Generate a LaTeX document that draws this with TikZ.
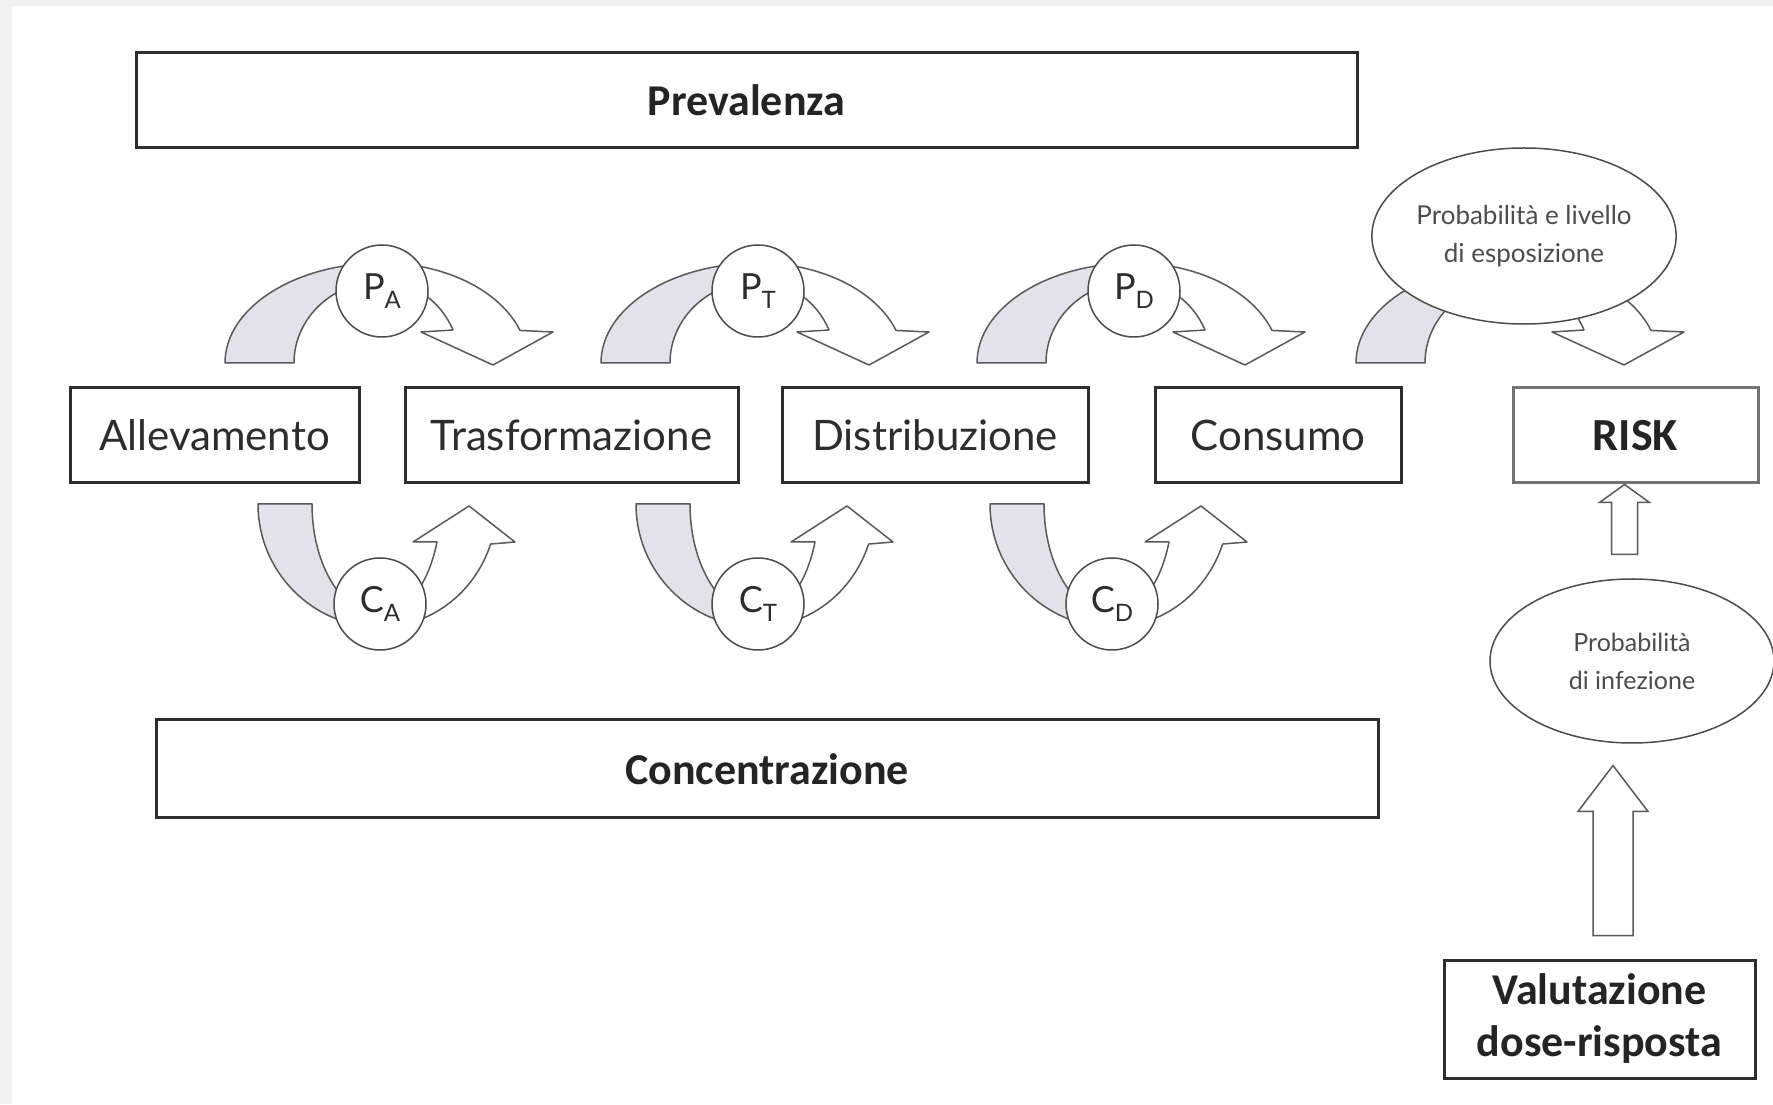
\documentclass[tikz,border=0pt]{standalone}
\usepackage{fontspec}
\setmainfont{Lato}
\newfontfamily\boldfont{Carlito}
\usetikzlibrary{calc,shapes.geometric}
\definecolor{bandgray}{RGB}{226,226,234}
\definecolor{inkgray}{RGB}{45,45,45}
\newcommand{\lowidx}[1]{\raisebox{-.5ex}{\fontsize{24}{24}\selectfont #1}}
%% bent arrow over a P-circle, local units, circle at (0,0) %%
\newcommand{\toparrow}{%
  \filldraw[band, fill=bandgray] (-157,-72) arc[start angle=180, end angle=90, x radius=157, y radius=100]
      -- (0,10) arc[start angle=90, end angle=180, x radius=88, y radius=82] -- cycle;
  \filldraw[band, fill=white] (0,28) arc[start angle=90, end angle=19, x radius=146, y radius=100]
      -- (171,-41) -- (111,-74) -- (39,-41) -- (71,-39)
      arc[start angle=24, end angle=90, x radius=78, y radius=82] -- cycle;}
%% bent arrow under a C-circle %%
\newcommand{\botarrow}{%
  \filldraw[band, fill=bandgray] (-122,100) arc[start angle=180, end angle=270, x radius=122, y radius=123]
      -- (0,-11) arc[start angle=270, end angle=180, x radius=68, y radius=111] -- cycle;
  \filldraw[band, fill=white] (0,-23) arc[start angle=270, end angle=341, x radius=117, y radius=123]
      -- (135,62) -- (89,98) -- (33,62) -- (57,62)
      arc[start angle=-20, end angle=-90, x radius=61, y radius=111] -- cycle;}

\begin{document}
\begin{tikzpicture}[x=1pt, y=1pt,
    band/.style={draw=black!65, line width=1.5, line join=round},
    blockarr/.style={draw=black!65, line width=1.5, fill=white},
    stage/.style={draw=inkgray, line width=3, minimum height=95, inner sep=0,
      text=inkgray, font=\fontsize{42}{42}\selectfont},
    banner/.style={draw=inkgray, line width=3, inner sep=0, text=inkgray!80!black,
      font=\boldfont\bfseries\fontsize{44}{52}\selectfont},
    idx/.style={circle, draw=black!70, line width=1.5, fill=white, minimum size=92,
      inner sep=0, text=inkgray, font=\fontsize{36}{36}\selectfont},
    blob/.style={ellipse, draw=black!70, line width=1.5, fill=white, inner sep=0,
      align=center, text=black!70, font=\fontsize{26}{38}\selectfont}]
      \useasboundingbox (0,0) rectangle (1773,1104);
      \fill[black!6] (0,0) rectangle (1773,1104);
      \fill[white] (12,0) rectangle (1773,1098);

          %% bent arrows %%
      \foreach \xc in {382,758,1134,1513}
      { \begin{scope}[shift={(\xc,813)}] \toparrow \end{scope} }
      \foreach \xc in {380,758,1112}
      { \begin{scope}[shift={(\xc,500)}] \botarrow \end{scope} }

      \foreach \xc/\nm/\ix in {382/pa/A, 758/pt/T, 1134/pd/D}
      { \node[idx] (\nm) at (\xc,813) {P\lowidx{\ix}};}
      \foreach \xc/\nm/\ix in {380/ca/A, 758/ct/T, 1112/cd/D}
      { \node[idx] (\nm) at (\xc,500) {C\lowidx{\ix}};}

      \node[blob, minimum width=296, minimum height=176] (expo) at (1524,868)
          {Probabilità e livello\\di esposizione};
      \node[blob, minimum width=284, minimum height=164, font=\fontsize{25}{38}\selectfont]
          (infez) at (1632,443) {Probabilità\\di infezione};

          %% chain %%
      \node[banner, minimum width=1221, minimum height=95] (prev) at (746.5,1003.5) {Prevalenza};
      \node[banner, minimum width=1222, minimum height=98] (conc) at (767,335) {Concentrazione};
      \node[stage, minimum width=289] (allev) at (214.5,668.5) {Allevamento};
      \node[stage, minimum width=333] (trasf) at (571.5,668.5) {Trasformazione};
      \node[stage, minimum width=306] (distr) at (935,668.5) {Distribuzione};
      \node[stage, minimum width=246] (cons) at (1278,668.5) {Consumo};
      \node[banner, draw=black!55, minimum width=245, minimum height=95,
          font=\boldfont\bfseries\fontsize{46}{46}\selectfont] (risk) at (1635.5,668.5) {RISK};
      \node[banner, minimum width=311, minimum height=118, align=center] (valut) at (1599.5,85)
          {Valutazione\\dose-risposta};

          %% hollow arrows up to RISK %%
      \coordinate (s0) at ($(risk.south)+(-11,-70)$);
      \draw[blockarr] (s0) ++(-13,0) -- ++(0,52) -- ++(-12,0) -- (risk.south -| s0)
          -- ++(25,-18) -- ++(-12,0) -- ++(0,-52) -- cycle;
      \coordinate (b0) at ($(valut.north)+(13.5,23)$);
      \draw[blockarr] (b0) ++(-20,0) -- ++(0,124) -- ++(-15,0) -- ++(35,46)
          -- ++(35,-46) -- ++(-15,0) -- ++(0,-124) -- cycle;
\end{tikzpicture}
\end{document}
